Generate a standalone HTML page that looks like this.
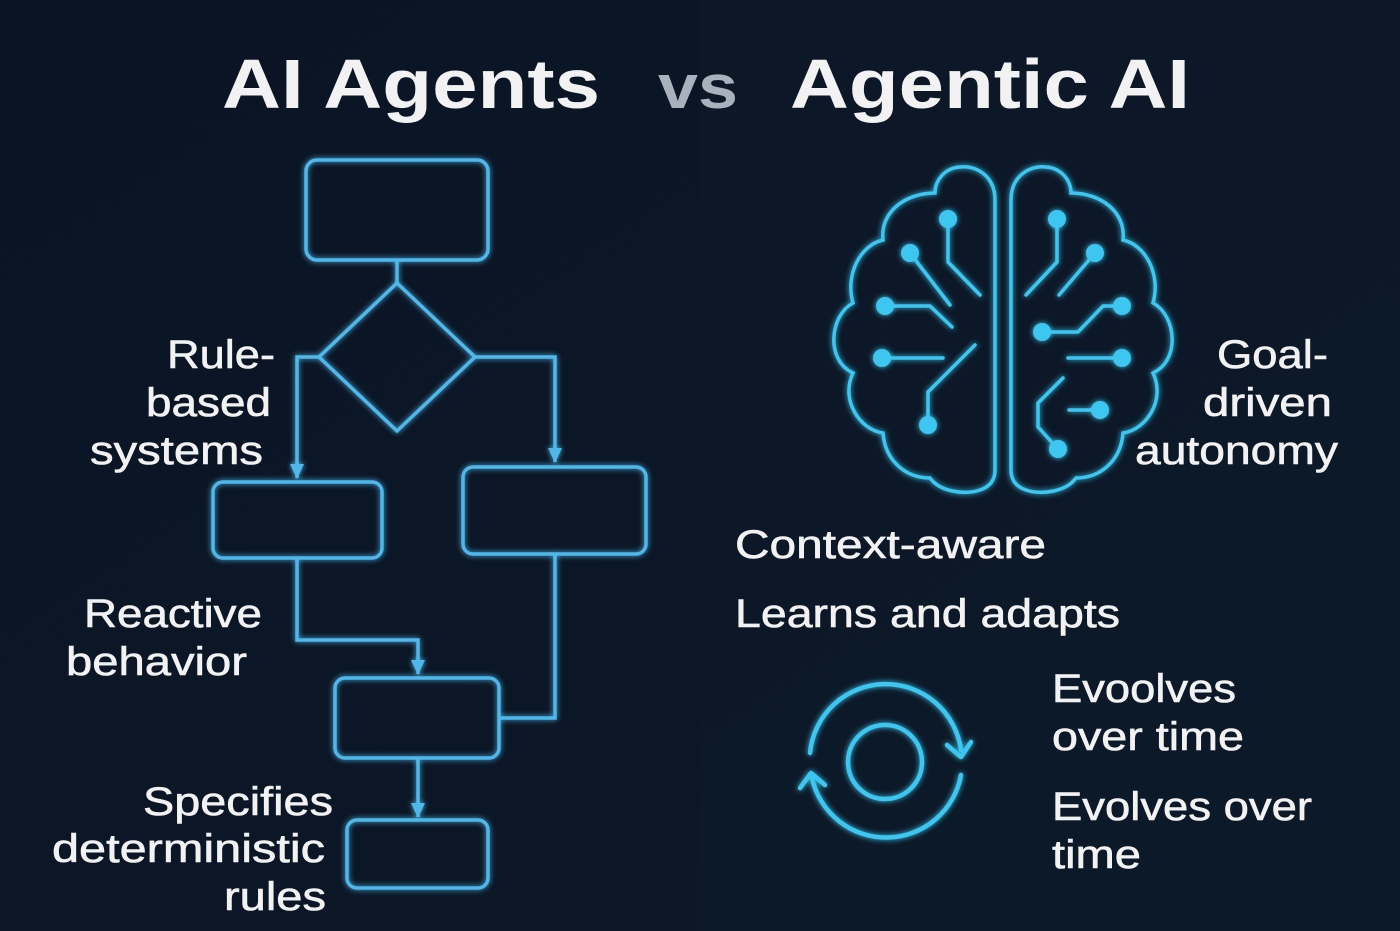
<!DOCTYPE html>
<html><head><meta charset="utf-8"><style>
html,body{margin:0;padding:0;background:#0b1625;}
svg{display:block}
text{font-family:"Liberation Sans",sans-serif;fill:#f2f2f2;}
</style></head><body>
<svg width="1400" height="931" viewBox="0 0 1400 931" xmlns="http://www.w3.org/2000/svg">
<defs>
<linearGradient id="bg" x1="0" y1="0" x2="1" y2="1">
<stop offset="0" stop-color="#0a1424"/><stop offset="1" stop-color="#0c1828"/>
</linearGradient>
<filter id="glow" x="-20%" y="-20%" width="140%" height="140%"><feGaussianBlur stdDeviation="3" result="b"/><feMerge><feMergeNode in="b"/><feMergeNode in="SourceGraphic"/></feMerge></filter>
<marker id="ar" markerWidth="16" markerHeight="16" refX="14" refY="8" orient="auto" markerUnits="userSpaceOnUse" viewBox="0 0 16 16"><path d="M0,1 L15,8 L0,15 Z" fill="#4fb7ea"/></marker>
</defs>
<rect width="1400" height="931" fill="url(#bg)"/>
<rect x="700" width="700" height="931" fill="#0e1a2a" opacity="0.6"/>

<!-- title -->
<g font-weight="bold" font-size="70">
<text x="222" y="108" textLength="378" lengthAdjust="spacingAndGlyphs">AI Agents</text>
<text x="658" y="108" font-size="62" style="fill:#a9b1bc" textLength="80" lengthAdjust="spacingAndGlyphs">vs</text>
<text x="790" y="108" textLength="400" lengthAdjust="spacingAndGlyphs">Agentic AI</text>
</g>

<!-- flowchart -->
<g fill="none" stroke="#4fb7ea" stroke-width="3.5" filter="url(#glow)">
<rect x="306" y="160" width="182" height="100" rx="11"/>
<line x1="397" y1="260" x2="397" y2="283"/>
<polygon points="397,283 475,357 397,431 319,357"/>
<polyline points="319,357 297,357 297,478" marker-end="url(#ar)"/>
<polyline points="475,357 555,357 555,462" marker-end="url(#ar)"/>
<rect x="213" y="482" width="169" height="76" rx="10"/>
<rect x="463" y="467" width="183" height="87" rx="10"/>
<polyline points="297,558 297,640 418,640 418,674" marker-end="url(#ar)"/>
<rect x="335" y="678" width="164" height="80" rx="10"/>
<polyline points="555,554 555,718 499,718"/>
<polyline points="418,758 418,817" marker-end="url(#ar)"/>
<rect x="347" y="820" width="141" height="68" rx="10"/>
</g>

<g font-size="40" stroke="#f2f2f2" stroke-width="0.6">
<text x="167" y="368" textLength="108" lengthAdjust="spacingAndGlyphs">Rule-</text>
<text x="146" y="416" textLength="125" lengthAdjust="spacingAndGlyphs">based</text>
<text x="90" y="464" textLength="173" lengthAdjust="spacingAndGlyphs">systems</text>
<text x="84" y="627" textLength="178" lengthAdjust="spacingAndGlyphs">Reactive</text>
<text x="66" y="675" textLength="181" lengthAdjust="spacingAndGlyphs">behavior</text>
<text x="143" y="815" textLength="190" lengthAdjust="spacingAndGlyphs">Specifies</text>
<text x="52" y="862" textLength="273" lengthAdjust="spacingAndGlyphs">deterministic</text>
<text x="224" y="910" textLength="102" lengthAdjust="spacingAndGlyphs">rules</text>
<text x="1217" y="368" textLength="111" lengthAdjust="spacingAndGlyphs">Goal-</text>
<text x="1203" y="416" textLength="129" lengthAdjust="spacingAndGlyphs">driven</text>
<text x="1135" y="464" textLength="203" lengthAdjust="spacingAndGlyphs">autonomy</text>
<text x="735" y="558" textLength="311" lengthAdjust="spacingAndGlyphs">Context-aware</text>
<text x="735" y="627" textLength="385" lengthAdjust="spacingAndGlyphs">Learns and adapts</text>
<text x="1052" y="702" textLength="184" lengthAdjust="spacingAndGlyphs">Evoolves</text>
<text x="1052" y="750" textLength="192" lengthAdjust="spacingAndGlyphs">over time</text>
<text x="1052" y="820" textLength="260" lengthAdjust="spacingAndGlyphs">Evolves over</text>
<text x="1052" y="868" textLength="89" lengthAdjust="spacingAndGlyphs">time</text>
</g>

<!-- brain -->
<g fill="none" stroke="#3ec6f0" stroke-width="3.5" stroke-linecap="round" filter="url(#glow)">
<path d="M995,200 C995,175 975,165 960,167 C945,168 935,180 935,193 C905,193 880,212 883,240 C860,245 845,275 853,303 C830,315 825,360 853,373 C840,400 860,430 883,433 C885,460 905,478 930,478 C940,492 965,495 980,490 C992,486 995,478 995,470 Z"/>
<path d="M1011,200 C1011,175 1031,165 1046,167 C1061,168 1071,180 1071,193 C1101,193 1126,212 1123,240 C1146,245 1161,275 1153,303 C1176,315 1181,360 1153,373 C1166,400 1146,430 1123,433 C1121,460 1101,478 1076,478 C1066,492 1041,495 1026,490 C1014,486 1011,478 1011,470 Z"/>
<polyline points="948,219 948,262 980,295"/>
<polyline points="910,253 950,305"/>
<polyline points="885,306 930,306 952,327"/>
<polyline points="882,358 943,358"/>
<polyline points="928,425 928,392 975,345"/>
<polyline points="1057,219 1057,262 1026,295"/>
<polyline points="1095,253 1059,295"/>
<polyline points="1122,306 1103,306 1078,332 1042,332"/>
<polyline points="1122,358 1068,358"/>
<polyline points="1100,410 1069,410"/>
<polyline points="1063,378 1038,403 1038,427 1057,448"/>
</g>
<g fill="#3ec6f0" filter="url(#glow)">
<circle cx="948" cy="219" r="9"/><circle cx="910" cy="253" r="9"/><circle cx="885" cy="306" r="9"/>
<circle cx="882" cy="358" r="9"/><circle cx="928" cy="425" r="9"/>
<circle cx="1057" cy="219" r="9"/><circle cx="1095" cy="253" r="9"/><circle cx="1122" cy="306" r="9"/>
<circle cx="1042" cy="332" r="9"/><circle cx="1122" cy="358" r="9"/><circle cx="1100" cy="410" r="9"/>
<circle cx="1058" cy="449" r="9"/>
</g>

<!-- cycle -->
<g fill="none" stroke="#3ec6f0" stroke-width="4.5" stroke-linecap="round" stroke-linejoin="round" filter="url(#glow)">
<circle cx="885" cy="762" r="37"/>
<path d="M810,753 A76,76 0 0 1 961,750"/>
<polyline points="947,745 961,757 971,742"/>
<path d="M961,775 A76,76 0 0 1 812,778"/>
<polyline points="800,788 811,773 825,785"/>
</g>
</svg>
</body></html>
